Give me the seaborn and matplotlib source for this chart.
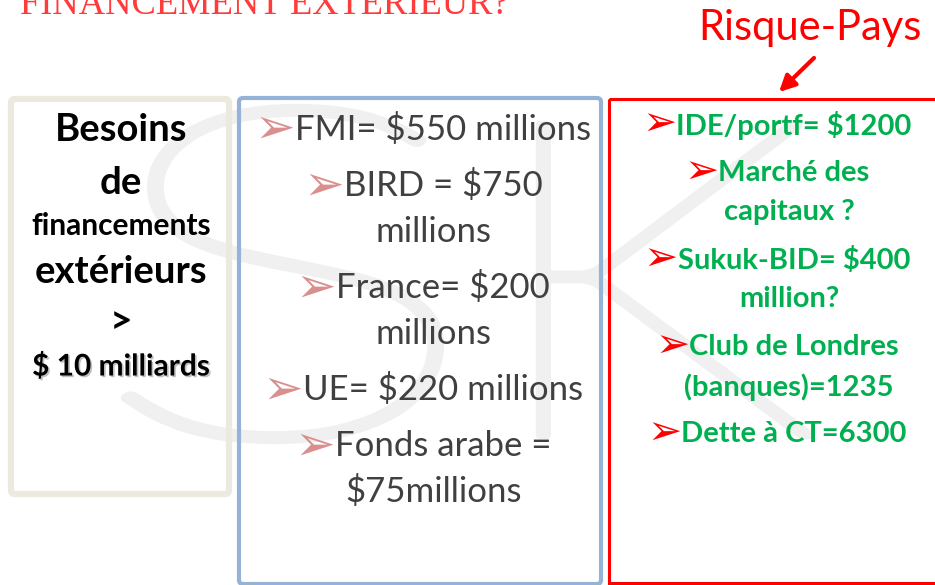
import numpy as np, matplotlib
matplotlib.use("Agg")
import matplotlib.pyplot as plt; import seaborn as sns
from matplotlib.patches import FancyBboxPatch, Rectangle, PathPatch
from matplotlib.textpath import TextPath
from matplotlib.font_manager import FontProperties
from matplotlib.transforms import Affine2D
from matplotlib.offsetbox import TextArea, HPacker, AnnotationBbox
import matplotlib.patheffects as pe

# ── slide content ──
title = "FINANCEMENT EXTERIEUR?"
risk_label = "Risque-Pays"
besoins_lines = ["Besoins", "de", "financements", "extérieurs", ">", "$ 10 milliards"]
bailleurs_lines = ["FMI= $550 millions", "BIRD = $750", "millions", "France= $200", "millions",
                   "UE= $220 millions", "Fonds arabe =", "$75millions"]
bailleurs_bullet = [True, True, False, True, False, True, True, False]
marche_lines = ["IDE/portf= $1200", "Marché des", "capitaux ?", "Sukuk-BID= $400", "million?",
                "Club de Londres", "(banques)=1235", "Dette à CT=6300"]
marche_bullet = [True, True, False, True, False, True, False, True]
watermark = ["S", "K"]

# ── layout (pixels, y down) ──
besoins_y = [130, 183, 226, 272, 322, 366]
besoins_size = [27.5, 27.5, 21.5, 27.5, 28, 21.5]
bailleurs_y = [129, 186, 232, 288, 334, 390, 446, 491]
marche_y = [125, 173, 212, 260, 299, 347, 387, 434]
wm_boxes = [(125, 108, 440, 440), (540, 125, 810, 435)]

sns.set_theme(style="white")
plt.rcParams['font.family'] = ['Lato', 'DejaVu Sans']

fig = plt.figure(figsize=(9.35, 5.85), dpi=100)
ax = fig.add_axes([0, 0, 1, 1])
ax.set_xlim(0, 935); ax.set_ylim(585, 0); ax.axis("off")

# faint "SK" watermark: thin glyph stretched to its box, thickened with an edge
for ch, (x0, y0, x1, y1) in zip(watermark, wm_boxes):
    tp = TextPath((0, 0), ch, size=100, prop=FontProperties(family="Lato", weight="light"))
    bb = tp.get_extents()
    tr = Affine2D().translate(-bb.x0, -bb.y1).scale((x1-x0)/bb.width, -(y1-y0)/bb.height).translate(x0, y0)
    ax.add_patch(PathPatch(tr.transform_path(tp), fc="#f0f0f0", ec="#f0f0f0", lw=6,
                           joinstyle="round", zorder=0))

# frames
ax.add_patch(FancyBboxPatch((11, 99), 218, 395, boxstyle="round,pad=0,rounding_size=4",
                            fc="none", ec="#eceadf", lw=4.5, zorder=1))
ax.add_patch(FancyBboxPatch((239, 98), 362, 486, boxstyle="round,pad=0,rounding_size=4",
                            fc="none", ec="#95b3d7", lw=3, zorder=1))
ax.add_patch(Rectangle((609, 99), 340, 484, fc="none", ec="#ff0000", lw=2.2, zorder=1))

def put(x, y, text, size, color, weight="normal", bullet=None, shadow=False):
    kids = []
    if bullet:
        kids.append(TextArea("➢", textprops=dict(color=bullet, fontsize=size*1.4, family="DejaVu Sans")))
    tp = dict(color=color, fontsize=size, fontweight=weight, family="Lato")
    if shadow:
        tp["path_effects"] = [pe.withSimplePatchShadow(offset=(1.2, -1.2), shadow_rgbFace="#999999", alpha=0.6)]
    kids.append(TextArea(text, textprops=tp))
    box = HPacker(children=kids, align="center", pad=0, sep=0)
    ax.add_artist(AnnotationBbox(box, (x, y), frameon=False, pad=0, box_alignment=(0.5, 0.5), zorder=3))

for t, y, s in zip(besoins_lines, besoins_y, besoins_size):
    put(121, y, t, s, "black", "bold", shadow=(t.startswith("$")))

for t, y, b in zip(bailleurs_lines, bailleurs_y, bailleurs_bullet):
    put(423 if b else 434, y, t, 25, "#404040", bullet="#d98f8e" if b else None)

for t, y, b in zip(marche_lines, marche_y, marche_bullet):
    put(777 if b else 789, y, t, 21, "#00b050", "bold", bullet="#ff0000" if b else None)

# title (cut by the top edge) and the country-risk label
ax.text(20, 14, title, family="Liberation Serif", fontsize=26.3, color="#ff3b3b", ha="left", va="baseline")
ax.text(810, 28, risk_label, fontsize=30, color="#ff0000", ha="center", va="center")
ax.annotate("", xy=(777, 94), xytext=(816, 56),
            arrowprops=dict(arrowstyle="-|>", color="#ff0000", lw=3, mutation_scale=24))

fig.savefig("out.png", dpi=100)
